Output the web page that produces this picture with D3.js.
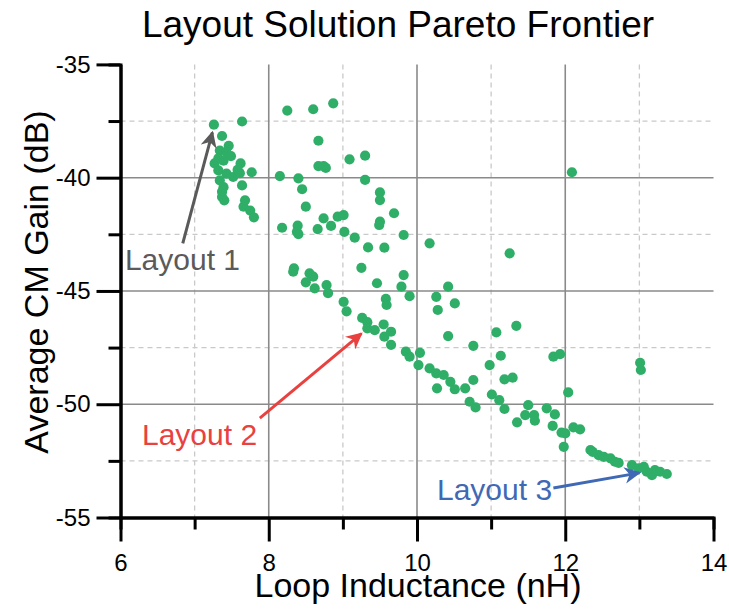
<!doctype html>
<html>
  <head>
    <meta charset="utf-8">
    <script src="https://d3js.org/d3.v7.min.js"></script>
    <style>
      body { margin: 0; background: #fff; }
      text { font-family: "Liberation Sans", Arial, sans-serif; }
      .grid-major line { stroke: #8a8a8a; stroke-width: 1.6; }
      .grid-minor line { stroke: #c9c9c9; stroke-width: 1.3; stroke-dasharray: 5,4; }
    </style>
  </head>
  <body>
    <script>
    // Loop inductance (nH) and average CM gain (dB) of each layout solution
    var inductance = [
      7.26, 7.64, 7.37, 7.46, 7.34, 7.43, 7.49, 7.32, 7.39, 7.27, 7.62, 7.32, 7.43, 7.52,
      7.61, 7.77, 7.34, 7.39, 7.37, 7.40, 7.64, 7.68, 7.66, 7.75, 7.80, 7.58, 7.37,
      8.25, 8.60, 8.87, 8.67, 8.67, 8.74, 8.77, 9.09, 9.30, 9.30, 8.15, 8.40, 8.45, 8.50,
      9.50, 9.50, 9.69, 8.74, 8.93, 9.01, 8.84, 8.66, 9.02, 8.39, 8.38, 8.40, 8.18, 9.50,
      9.49, 9.16, 9.82, 9.34, 9.56, 10.17, 9.25,
      8.34, 8.33, 8.55, 8.60, 8.50, 8.62, 8.78, 8.80, 9.01, 9.05, 9.26, 9.33, 9.33, 9.43,
      9.55, 9.65, 9.56, 9.65, 9.85, 9.90, 10.04, 10.02, 10.17, 10.26, 10.36, 10.45, 10.51,
      10.65, 10.27, 10.71, 10.79,
      9.46, 9.58, 9.59, 9.82, 9.79, 9.90, 10.42, 10.26, 10.28, 10.51, 10.42, 10.76, 11.07,
      11.34, 11.25, 12.09,
      10.76, 10.98, 11.13, 11.18, 11.29, 11.84, 11.93, 12.04, 11.01, 11.11, 11.18, 11.50,
      11.46, 11.58, 11.59, 11.35, 11.75, 11.86, 11.83, 11.95, 12.00, 11.98, 12.11, 12.20,
      13.01, 13.02,
      12.34, 12.37, 12.45, 12.52, 12.61, 12.67, 12.72, 12.90, 12.99, 13.06, 13.10, 13.17,
      13.21, 13.28, 13.37
    ];
    var cmGain = [
      -37.66, -37.52, -38.16, -38.59, -38.80, -38.88, -39.05, -39.15, -39.25, -39.37, -39.37, -39.68, -39.82, -39.97,
      -39.80, -39.76, -40.12, -40.42, -40.62, -41.00, -40.34, -41.00, -41.28, -41.45, -41.75, -39.66, -40.85,
      -37.04, -36.98, -36.72, -38.37, -39.49, -39.49, -39.57, -39.19, -39.03, -40.10, -39.93, -40.03, -40.51, -41.28,
      -40.65, -40.99, -41.57, -41.80, -41.72, -41.65, -42.13, -42.27, -42.39, -42.12, -42.39, -42.49, -42.21, -41.94,
      -42.09, -42.65, -42.53, -43.08, -43.09, -42.90, -43.98,
      -44.00, -44.15, -44.22, -44.37, -44.62, -44.89, -44.74, -45.10, -45.48, -45.90, -46.19, -46.38, -46.65, -46.73,
      -46.48, -46.80, -47.02, -47.38, -47.68, -47.90, -47.73, -48.27, -48.42, -48.64, -48.71, -49.01, -49.34,
      -49.30, -49.30, -49.89, -50.14,
      -44.66, -45.35, -45.62, -44.30, -44.81, -45.23, -44.81, -45.26, -45.84, -45.55, -46.99, -47.42, -46.83,
      -46.54, -43.34, -39.76,
      -48.93, -48.27, -47.86, -48.90, -48.83, -47.90, -47.79, -49.48, -49.57, -49.82, -50.21, -50.04,
      -50.48, -50.48, -50.73, -50.80, -50.18, -50.45, -50.96, -51.25, -51.29, -51.88, -51.02, -51.11,
      -48.17, -48.49,
      -52.02, -52.10, -52.25, -52.32, -52.39, -52.54, -52.59, -52.69, -52.83, -52.76, -52.98, -53.13,
      -52.91, -52.98, -53.08
    ];

    var xMajorTicks = [6, 8, 10, 12, 14];
    var xMinorTicks = [7, 9, 11, 13];
    var yMajorTicks = [-35, -40, -45, -50, -55];
    var yMinorTicks = [-37.5, -42.5, -47.5, -52.5];

    // annotations, in data units: label start, arrow tail, arrow tip
    var annoNames = ['Layout 1', 'Layout 2', 'Layout 3'];
    var annoColors = ['#5a5a5a', '#e8413f', '#3f69b4'];
    var annoText = [[6.06, -44.07], [6.29, -51.80], [10.27, -54.23]];
    var annoTail = [[6.84, -42.90], [7.88, -50.61], [11.84, -53.70]];
    var annoTip = [[7.24, -38.00], [9.25, -46.88], [13.00, -53.03]];

    var width = 729;
    var height = 610;
    var margin = { top: 64.4, right: 15.5, bottom: 92.5, left: 120.5 };
    var innerWidth = width - margin.left - margin.right;
    var innerHeight = height - margin.top - margin.bottom;

    var svg = d3.select('body')
      .append('svg')
      .attr('width', width)
      .attr('height', height);

    var g = svg.append('g')
      .attr('transform', 'translate(' + margin.left + ',' + margin.top + ')');

    var x = d3.scaleLinear().domain([6, 14]).range([0, innerWidth]);
    var y = d3.scaleLinear().domain([-55, -35]).range([innerHeight, 0]);

    // gridlines
    g.append('g').attr('class', 'grid-minor')
      .selectAll('line.v').data(xMinorTicks).enter().append('line')
      .attr('x1', d => x(d)).attr('x2', d => x(d))
      .attr('y1', 0).attr('y2', innerHeight);
    g.append('g').attr('class', 'grid-minor')
      .selectAll('line.h').data(yMinorTicks).enter().append('line')
      .attr('x1', 0).attr('x2', innerWidth)
      .attr('y1', d => y(d)).attr('y2', d => y(d));
    g.append('g').attr('class', 'grid-major')
      .selectAll('line').data(xMajorTicks.slice(1, -1)).enter().append('line')
      .attr('x1', d => x(d)).attr('x2', d => x(d))
      .attr('y1', 0).attr('y2', innerHeight);
    g.append('g').attr('class', 'grid-major')
      .selectAll('line').data(yMajorTicks.slice(1, -1)).enter().append('line')
      .attr('x1', 0).attr('x2', innerWidth)
      .attr('y1', d => y(d)).attr('y2', d => y(d));

    // axes
    function styleAxis(sel) {
      sel.select('.domain').attr('stroke', '#000').attr('stroke-width', 3);
      sel.selectAll('.tick line').attr('stroke', '#000').attr('stroke-width', 3);
      sel.selectAll('.tick text')
        .attr('fill', '#000')
        .style('font-family', '"Liberation Sans", Arial, sans-serif')
        .style('font-size', '24px');
    }

    // minor ticks have no labels
    var xAxisMinor = d3.axisBottom(x).tickValues(xMinorTicks).tickSize(12).tickFormat('');
    var yAxisMinor = d3.axisLeft(y).tickValues(yMinorTicks).tickSize(12).tickFormat('');
    g.append('g').attr('transform', 'translate(0,' + innerHeight + ')').call(xAxisMinor).call(styleAxis)
      .selectAll('.tick text').remove();
    g.append('g').call(yAxisMinor).call(styleAxis)
      .selectAll('.tick text').remove();

    var xAxis = d3.axisBottom(x).tickValues(xMajorTicks).tickSize(24).tickSizeOuter(0).tickPadding(12)
      .tickFormat(d3.format('d'));
    var yAxis = d3.axisLeft(y).tickValues(yMajorTicks).tickSize(24).tickSizeOuter(0).tickPadding(6)
      .tickFormat(d => d3.format('d')(d).replace('\u2212', '-'));
    g.append('g').attr('transform', 'translate(0,' + innerHeight + ')').call(xAxis).call(styleAxis);
    g.append('g').call(yAxis).call(styleAxis);

    // points
    var points = inductance.map((v, i) => ({ l: v, gain: cmGain[i] }));
    g.append('g')
      .selectAll('circle')
      .data(points)
      .enter()
      .append('circle')
      .attr('cx', d => x(d.l))
      .attr('cy', d => y(d.gain))
      .attr('r', 5.1)
      .attr('fill', '#2fae68');

    // annotations
    var defs = svg.append('defs');
    annoColors.forEach(function(c, i) {
      defs.append('marker')
        .attr('id', 'arrow' + i)
        .attr('viewBox', '0 0 10 10')
        .attr('refX', 9).attr('refY', 5)
        .attr('markerWidth', 5.5).attr('markerHeight', 5.5)
        .attr('markerUnits', 'strokeWidth')
        .attr('orient', 'auto')
        .append('path')
        .attr('d', 'M0,0 L10,5 L0,10 L3,5 Z')
        .attr('fill', c);
    });

    annoNames.forEach(function(name, i) {
      g.append('line')
        .attr('x1', x(annoTail[i][0])).attr('y1', y(annoTail[i][1]))
        .attr('x2', x(annoTip[i][0])).attr('y2', y(annoTip[i][1]))
        .attr('stroke', annoColors[i])
        .attr('stroke-width', 3)
        .attr('marker-end', 'url(#arrow' + i + ')');
      g.append('text')
        .attr('x', x(annoText[i][0]))
        .attr('y', y(annoText[i][1]))
        .attr('fill', annoColors[i])
        .style('font-size', '30px')
        .text(name);
    });

    // titles
    svg.append('text')
      .attr('x', 398).attr('y', 37)
      .attr('text-anchor', 'middle')
      .style('font-size', '37px')
      .text('Layout Solution Pareto Frontier');

    svg.append('text')
      .attr('x', 418).attr('y', 597)
      .attr('text-anchor', 'middle')
      .style('font-size', '34px')
      .text('Loop Inductance (nH)');

    svg.append('text')
      .attr('transform', 'translate(48,282) rotate(-90)')
      .attr('text-anchor', 'middle')
      .style('font-size', '34px')
      .text('Average CM Gain (dB)');
    </script>
  </body>
</html>
